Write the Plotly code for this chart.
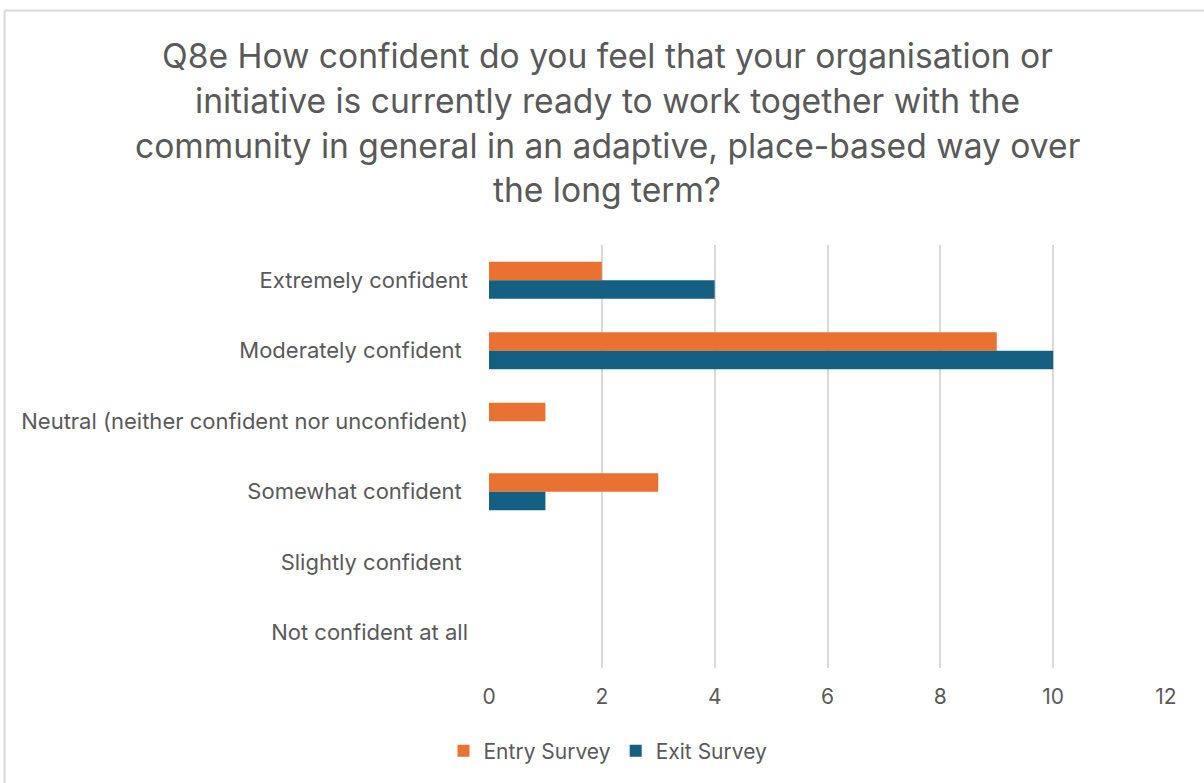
import plotly.graph_objects as go

categories = [
    "Extremely confident",
    "Moderately confident\u00a0",
    "Neutral (neither confident nor unconfident)",
    "Somewhat confident\u00a0",
    "Slightly confident\u00a0",
    "Not confident at all",
]
entry_survey = [2, 9, 1, 3, 0, 0]
exit_survey = [4, 10, 0, 1, 0, 0]
x_ticks = [0, 2, 4, 6, 8, 10, 12]

title_lines = [
    "Q8e How confident do you feel that your organisation or",
    "initiative is currently ready to work together with the",
    "community in general in an adaptive, place-based way over",
    "the long term?",
]

FONT = "Inter"
TEXT_GREY = "#595959"
GRID_GREY = "#D9D9D9"

W, H = 1204, 783
L, R, T, B = 489, 38, 245, 115

fig = go.Figure()
fig.add_trace(go.Bar(
    y=categories, x=entry_survey, orientation="h", name="Entry Survey",
    marker=dict(color="#E97132", line=dict(width=0)),
))
fig.add_trace(go.Bar(
    y=categories, x=exit_survey, orientation="h", name="Exit Survey",
    marker=dict(color="#156082", line=dict(width=0)),
))

pw, ph = W - L - R, H - T - B
def px_x(v):
    return (v - L) / pw
def px_y(v):
    return (H - B - v) / ph

# multi-line title drawn as separate lines for wider leading
for i, line in enumerate(title_lines):
    fig.add_annotation(
        text=line, xref="paper", yref="paper",
        x=px_x(607), y=px_y(55 + 45 * i),
        xanchor="center", yanchor="middle", showarrow=False,
        font=dict(family=FONT, size=33.6, color=TEXT_GREY),
    )

# frame lines along top and left edge
fig.add_shape(type="line", xref="paper", yref="paper",
              x0=px_x(4.5), x1=px_x(1210), y0=px_y(10.5), y1=px_y(10.5),
              line=dict(color=GRID_GREY, width=2))
fig.add_shape(type="line", xref="paper", yref="paper",
              x0=px_x(4.5), x1=px_x(4.5), y0=px_y(10.5), y1=px_y(800),
              line=dict(color=GRID_GREY, width=2))

fig.update_layout(
    width=W, height=H,
    margin=dict(l=L, r=R, t=T, b=B),
    paper_bgcolor="white", plot_bgcolor="white",
    barmode="group", bargap=0.475, bargroupgap=0,
    font=dict(family=FONT, color=TEXT_GREY),
    showlegend=True,
    legend=dict(
        orientation="h", x=px_x(608), xanchor="center",
        y=px_y(751), yanchor="middle",
        font=dict(family=FONT, size=21, color=TEXT_GREY),
        traceorder="normal", itemwidth=30,
    ),
    xaxis=dict(
        range=[0, 12], tickvals=x_ticks, showgrid=True, gridcolor=GRID_GREY,
        gridwidth=1.5, zeroline=False, showline=False,
        tickfont=dict(family=FONT, size=21, color=TEXT_GREY),
        ticklabelstandoff=14, fixedrange=True,
    ),
    yaxis=dict(
        autorange="reversed", showgrid=False, zeroline=False, showline=False,
        tickfont=dict(family=FONT, size=22, color=TEXT_GREY),
        ticklabelstandoff=20, fixedrange=True,
    ),
)

fig.write_html("out.html")
